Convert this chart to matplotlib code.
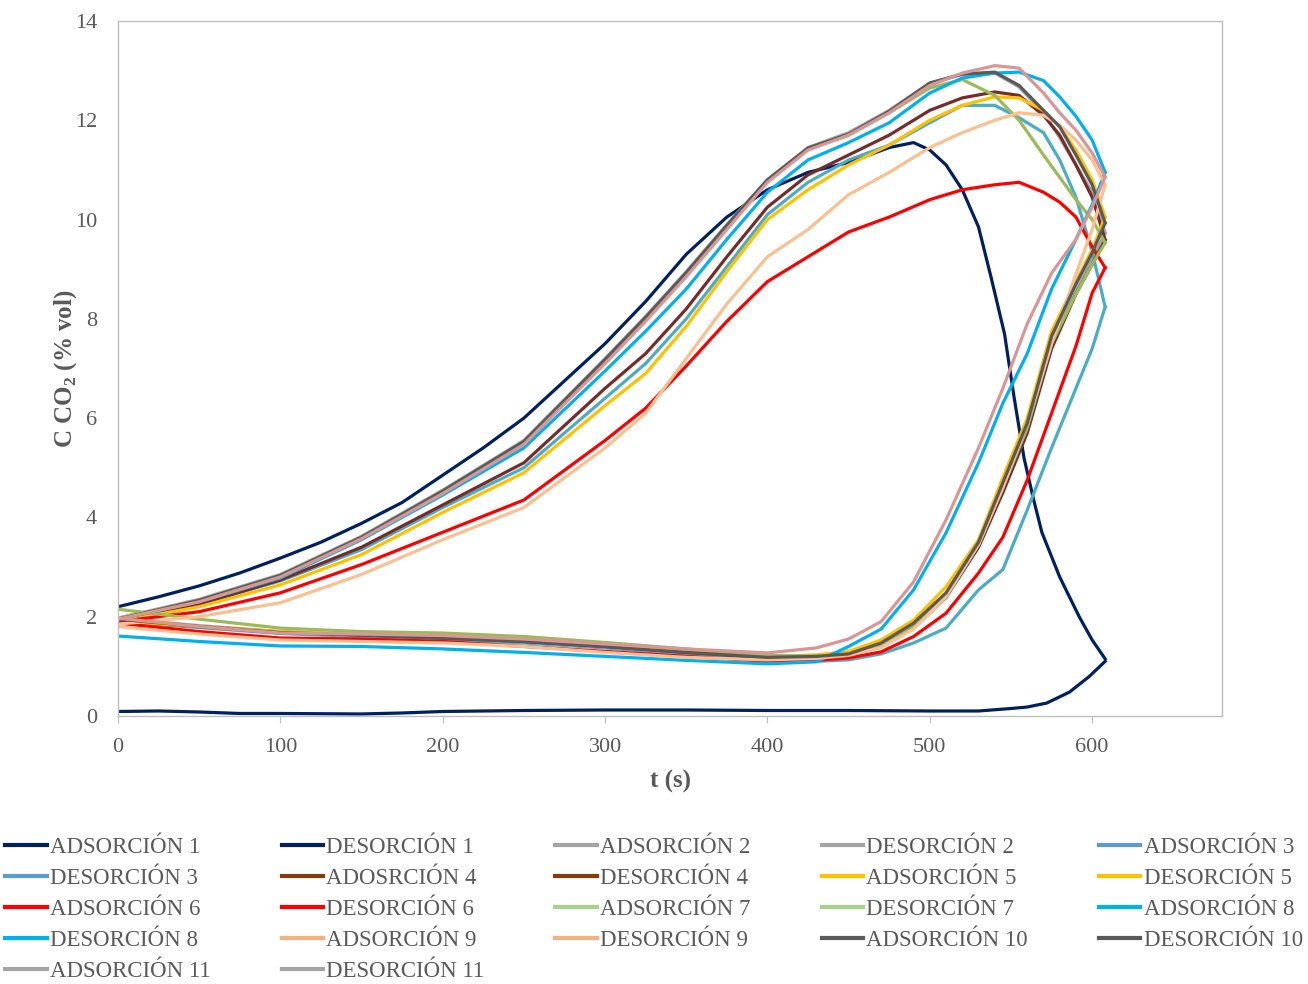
import matplotlib
matplotlib.use("Agg")
from matplotlib import pyplot as plt
from matplotlib.lines import Line2D

# tiempos (s)
t_ads = [0, 50, 100, 150, 200, 250, 300, 325, 350, 375, 400, 425, 450, 475, 500, 520, 540, 555, 570, 580,
         590, 600, 608]
t_des = [0, 50, 100, 150, 200, 250, 300, 350, 400, 430, 450, 470, 490, 510, 530, 545, 560, 575, 590, 600, 608]
t_ads_1 = [0, 25, 50, 75, 100, 125, 150, 175, 200, 225, 250, 275, 300, 325, 350, 375, 400, 425, 450, 475,
           490, 500, 510, 520, 530, 538, 546, 552, 558, 564, 569, 580, 592, 600, 608]
t_des_1 = [0, 25, 50, 75, 100, 150, 175, 200, 250, 300, 350, 400, 450, 500, 530, 550, 560, 572, 586, 598, 608]

# concentraciones CO2 (% vol)
ads_1 = [2.2, 2.4, 2.62, 2.88, 3.18, 3.5, 3.88, 4.3, 4.85, 5.4, 6.0, 6.75, 7.5, 8.35, 9.3, 10.05, 10.6,
         10.95, 11.15, 11.45, 11.55, 11.4, 11.1, 10.6, 9.85, 8.8, 7.7, 6.4, 5.2, 4.35, 3.7, 2.8, 2.0, 1.53, 1.15]
des_1 = [0.09, 0.1, 0.08, 0.05, 0.05, 0.04, 0.06, 0.09, 0.11, 0.12, 0.12, 0.11, 0.11, 0.1, 0.1, 0.15,
         0.18, 0.26, 0.48, 0.79, 1.1]
ads_2 = [1.97, 2.35, 2.85, 3.62, 4.55, 5.55, 7.2, 8.05, 8.95, 9.9, 10.8, 11.45, 11.75, 12.2, 12.75, 12.92,
         12.95, 12.67, 12.15, 11.65, 11.1, 10.55, 9.73]
des_2 = [1.97, 1.82, 1.7, 1.63, 1.57, 1.5, 1.4, 1.28, 1.17, 1.18, 1.22, 1.39, 1.77, 2.38, 3.4, 4.55, 5.75,
         7.5, 8.55, 9.2, 9.73]
ads_3 = [1.95, 2.25, 2.72, 3.35, 4.2, 5.0, 6.4, 7.1, 8.0, 9.05, 10.1, 10.75, 11.2, 11.5, 11.95, 12.3, 12.3,
         12.05, 11.75, 11.2, 10.45, 9.35, 8.24]
des_3 = [1.9, 1.78, 1.66, 1.6, 1.55, 1.47, 1.37, 1.24, 1.1, 1.1, 1.13, 1.25, 1.47, 1.77, 2.54, 2.95, 4.15,
         5.4, 6.6, 7.4, 8.24]
ads_4 = [1.9, 2.25, 2.74, 3.4, 4.25, 5.1, 6.6, 7.3, 8.2, 9.25, 10.25, 10.9, 11.3, 11.7, 12.2, 12.45, 12.57,
         12.5, 12.1, 11.7, 11.1, 10.45, 9.59]
des_4 = [1.9, 1.8, 1.69, 1.63, 1.57, 1.5, 1.4, 1.28, 1.17, 1.18, 1.23, 1.4, 1.8, 2.4, 3.4, 4.5, 5.7, 7.4,
         8.5, 9.1, 9.59]
ads_5 = [1.9, 2.2, 2.64, 3.25, 4.1, 4.9, 6.25, 6.9, 7.85, 8.95, 10.0, 10.6, 11.1, 11.5, 12.0, 12.3, 12.47,
         12.45, 12.2, 11.87, 11.4, 10.8, 10.05]
des_5 = [1.9, 1.8, 1.7, 1.65, 1.6, 1.52, 1.42, 1.3, 1.2, 1.23, 1.3, 1.53, 1.93, 2.6, 3.55, 4.8, 6.0, 7.75,
         8.75, 9.4, 10.05]
ads_6 = [1.9, 2.1, 2.48, 3.05, 3.7, 4.35, 5.55, 6.2, 7.05, 7.95, 8.75, 9.25, 9.75, 10.05, 10.4, 10.6, 10.7,
         10.75, 10.55, 10.35, 10.05, 9.45, 9.03]
des_6 = [1.87, 1.7, 1.57, 1.55, 1.5, 1.4, 1.3, 1.2, 1.1, 1.12, 1.17, 1.29, 1.6, 2.07, 2.88, 3.6, 4.75, 6.1,
         7.45, 8.52, 9.03]
ads_7 = [1.97, 2.33, 2.83, 3.6, 4.52, 5.52, 7.17, 8.02, 8.92, 9.87, 10.78, 11.42, 11.7, 12.15, 12.65, 12.82,
         12.5, 12.0, 11.3, 10.85, 10.4, 10.0, 9.53]
des_7 = [2.15, 1.95, 1.77, 1.7, 1.67, 1.6, 1.48, 1.35, 1.22, 1.2, 1.24, 1.42, 1.8, 2.42, 3.45, 4.6, 5.8,
         7.5, 8.5, 9.1, 9.53]
ads_8 = [1.95, 2.3, 2.78, 3.55, 4.45, 5.4, 6.95, 7.75, 8.6, 9.6, 10.55, 11.2, 11.55, 11.95, 12.55, 12.85,
         12.95, 12.97, 12.8, 12.47, 12.08, 11.6, 10.95]
des_8 = [1.61, 1.5, 1.41, 1.4, 1.35, 1.28, 1.2, 1.12, 1.05, 1.09, 1.4, 1.75, 2.54, 3.69, 5.1, 6.3, 7.3,
         8.6, 9.6, 10.3, 10.95]
ads_9 = [1.85, 2.0, 2.28, 2.85, 3.55, 4.2, 5.4, 6.1, 7.2, 8.3, 9.25, 9.8, 10.5, 10.95, 11.45, 11.75, 12.0,
         12.15, 12.1, 11.9, 11.6, 11.2, 10.7]
des_9 = [1.8, 1.65, 1.53, 1.5, 1.47, 1.4, 1.28, 1.18, 1.13, 1.16, 1.22, 1.38, 1.75, 2.4, 3.45, 4.6, 5.9,
         7.5, 8.9, 9.8, 10.7]
ads_10 = [1.95, 2.33, 2.83, 3.6, 4.53, 5.53, 7.18, 8.03, 8.93, 9.88, 10.8, 11.44, 11.72, 12.18, 12.75,
          12.93, 12.97, 12.7, 12.2, 11.87, 11.3, 10.7, 9.93]
des_10 = [1.95, 1.8, 1.68, 1.63, 1.57, 1.5, 1.4, 1.28, 1.18, 1.2, 1.25, 1.47, 1.87, 2.48, 3.5, 4.7, 5.9,
          7.65, 8.7, 9.33, 9.93]
ads_11 = [1.95, 2.3, 2.8, 3.57, 4.48, 5.47, 7.1, 7.95, 8.85, 9.8, 10.75, 11.4, 11.7, 12.15, 12.7, 12.95,
          13.1, 13.05, 12.55, 12.15, 11.8, 11.34, 10.86]
des_11 = [1.97, 1.8, 1.67, 1.65, 1.62, 1.55, 1.45, 1.35, 1.27, 1.37, 1.55, 1.9, 2.7, 3.95, 5.4, 6.6, 7.9,
          8.92, 9.6, 10.25, 10.86]

labels = ["ADSORCIÓN 1", "DESORCIÓN 1", "ADSORCIÓN 2", "DESORCIÓN 2", "ADSORCIÓN 3", "DESORCIÓN 3",
          "ADOSRCIÓN 4", "DESORCIÓN 4", "ADSORCIÓN 5", "DESORCIÓN 5", "ADSORCIÓN 6", "DESORCIÓN 6",
          "ADSORCIÓN 7", "DESORCIÓN 7", "ADSORCIÓN 8", "DESORCIÓN 8", "ADSORCIÓN 9", "DESORCIÓN 9",
          "ADSORCIÓN 10", "DESORCIÓN 10", "ADSORCIÓN 11", "DESORCIÓN 11"]

# colores de las curvas y de la leyenda (uno por ensayo)
line_colors = ["#002060", "#A5A5A5", "#4BACC6", "#772C2A", "#FFC000", "#FF0000",
               "#9BBB59", "#00B0F0", "#FAC090", "#595959", "#D99694"]
legend_colors = ["#002060", "#A5A5A5", "#5B9BD5", "#843C0C", "#FFC000", "#FF0000",
                 "#A9D18E", "#00B0F0", "#F4B183", "#595959", "#A5A5A5"]

series = [(t_ads_1, ads_1), (t_des_1, des_1),
          (t_ads, ads_2), (t_des, des_2), (t_ads, ads_3), (t_des, des_3),
          (t_ads, ads_4), (t_des, des_4), (t_ads, ads_5), (t_des, des_5),
          (t_ads, ads_6), (t_des, des_6), (t_ads, ads_7), (t_des, des_7),
          (t_ads, ads_8), (t_des, des_8), (t_ads, ads_9), (t_des, des_9),
          (t_ads, ads_10), (t_des, des_10), (t_ads, ads_11), (t_des, des_11)]

plt.rcParams['font.family'] = ['Liberation Serif', 'DejaVu Serif']
plt.rcParams['mathtext.fontset'] = 'custom'
plt.rcParams['mathtext.rm'] = 'Liberation Serif'
plt.rcParams['mathtext.bf'] = 'Liberation Serif:bold'

gris = "#595959"
fig = plt.figure(figsize=(13.08, 9.84), dpi=100)
ax = fig.add_axes([0.0902, 0.2724, 0.8441, 0.7063])

for i, (tx, cy) in enumerate(series):
    ax.plot(tx, cy, color=line_colors[i // 2], lw=2.3, solid_joinstyle='round')

ax.set_xlim(0, 680)
ax.set_ylim(0, 14)
ax.set_xticks(range(0, 700, 100))
ax.set_yticks(range(0, 16, 2))
for s in ax.spines.values():
    s.set_color("#BFBFBF")
    s.set_linewidth(1.0)
ax.tick_params(axis='x', direction='out', length=5, color="#BFBFBF", labelsize=16, labelcolor=gris, pad=11)
ax.tick_params(axis='y', length=0, labelsize=16, labelcolor=gris, pad=15)

ax.set_xlabel("t (s)", fontsize=18, fontweight='bold', color=gris, labelpad=9)
ax.set_ylabel(r"C CO$_\mathbf{2}$ (% vol)", fontsize=18, fontweight='bold', color=gris, labelpad=-3)

# leyenda: orden por filas como en Excel, matplotlib rellena por columnas
ncol = 5
handles = [Line2D([], [], color=legend_colors[i // 2], lw=3) for i in range(len(labels))]
order = sorted(range(len(labels)), key=lambda i: (i % ncol, i // ncol))
leg = fig.legend([handles[i] for i in order], [labels[i] for i in order],
                 loc='upper center', bbox_to_anchor=(0.5, 0.1705), ncol=ncol, frameon=False,
                 fontsize=16.5, handlelength=1.8, handletextpad=0.15, columnspacing=3.1,
                 labelspacing=0.44)
for txt in leg.get_texts():
    txt.set_color(gris)

fig.savefig("out.png", dpi=100, facecolor='white')
